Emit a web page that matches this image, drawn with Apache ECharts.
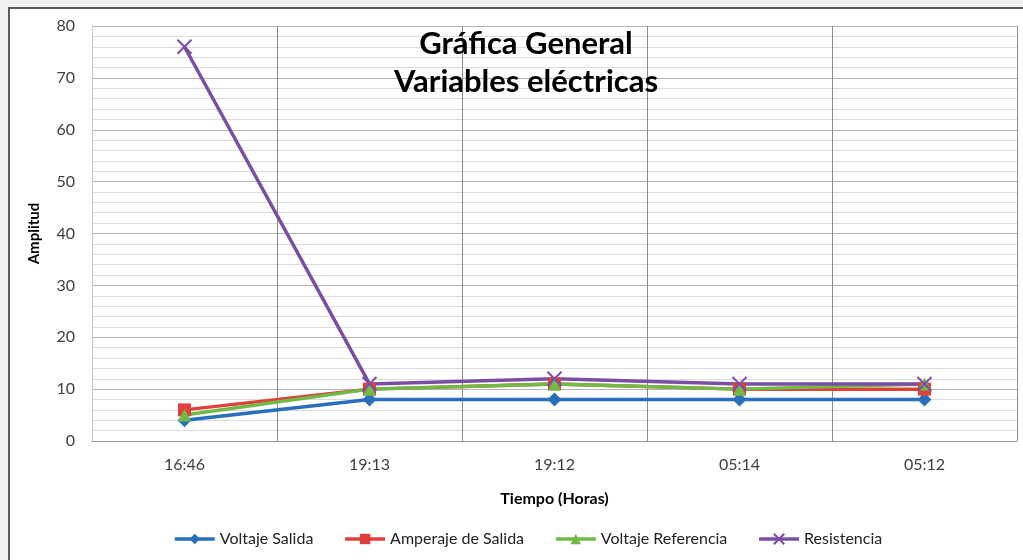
<!DOCTYPE html>
<html>
<head>
<meta charset="utf-8">
<title>Gráfica General - Variables eléctricas</title>
<script src="https://cdn.jsdelivr.net/npm/echarts@6/dist/echarts.min.js"></script>
<style>
  html, body { margin: 0; padding: 0; background: #f0f0f0; }
  #chart { width: 1023px; height: 560px; }
</style>
</head>
<body>
<div id="chart"></div>
<script>
// Chart data
const horas = ['16:46', '19:13', '19:12', '05:14', '05:12'];
const voltajeSalida = [4, 8, 8, 8, 8];
const amperajeSalida = [6, 10, 11, 10, 10];
const voltajeReferencia = [5, 10, 11, 10, 11];
const resistencia = [76, 11, 12, 11, 11];

const fontFam = 'Lato, "Open Sans", sans-serif';

function serie(name, data, color, symbol, size) {
    return {
        name: name,
        type: 'line',
        data: data,
        symbol: symbol,
        symbolSize: size,
        showAllSymbol: true,
        lineStyle: { color: color, width: 3.5 },
        itemStyle: { color: color, borderColor: color, borderWidth: symbol.indexOf('path://') === 0 ? 2 : 0 },
        emphasis: { disabled: true }
    };
}

const chart = echarts.init(document.getElementById('chart'));
chart.setOption({
    backgroundColor: '#f0f0f0',
    animation: false,
    textStyle: { fontFamily: fontFam },
    graphic: [{
        type: 'rect',
        z: -10,
        shape: { x: 9, y: 8, width: 1020, height: 560 },
        style: { fill: '#ffffff', stroke: '#5a5a5a', lineWidth: 2 }
    }],
    title: {
        text: 'Gráfica General\nVariables eléctricas',
        left: 521,
        textAlign: 'center',
        top: 20,
        textStyle: { fontSize: 31, fontWeight: 'bold', color: '#000', lineHeight: 38, fontFamily: fontFam }
    },
    legend: {
        bottom: 8,
        left: 168,
        itemWidth: 40,
        itemHeight: 13,
        itemGap: 30,
        lineStyle: { width: 3.5 },
        textStyle: { fontSize: 16, color: '#222', fontFamily: fontFam },
        data: ['Voltaje Salida', 'Amperaje de Salida', 'Voltaje Referencia', 'Resistencia']
    },
    grid: { left: 92, right: 6, top: 26, bottom: 119 },
    xAxis: {
        type: 'category',
        data: horas,
        boundaryGap: true,
        name: 'Tiempo (Horas)',
        nameLocation: 'middle',
        nameGap: 50,
        nameTextStyle: { fontSize: 16, fontWeight: 'bold', color: '#000' },
        axisLine: { lineStyle: { color: '#9a9a9a', width: 1 } },
        axisTick: { show: false },
        axisLabel: { fontSize: 16, color: '#404040', margin: 16 },
        splitLine: { show: true, lineStyle: { color: '#8c8c8c', width: 1 } }
    },
    yAxis: {
        type: 'value',
        min: 0,
        max: 80,
        interval: 10,
        name: 'Amplitud',
        nameLocation: 'middle',
        nameGap: 50,
        nameTextStyle: { fontSize: 15, fontWeight: 'bold', color: '#000' },
        axisLine: { show: true, lineStyle: { color: '#c8c8c8' } },
        axisTick: { show: false },
        axisLabel: { fontSize: 16, color: '#404040', margin: 17 },
        splitLine: { lineStyle: { color: '#b4b4b4', width: 1 } },
        minorTick: { show: false, splitNumber: 5 },
        minorSplitLine: { show: true, lineStyle: { color: '#dcdcdc', width: 1 } }
    },
    series: [
        serie('Voltaje Salida', voltajeSalida, '#2a6fbd', 'diamond', 14),
        serie('Amperaje de Salida', amperajeSalida, '#e0403c', 'rect', 13),
        serie('Voltaje Referencia', voltajeReferencia, '#70bb45', 'triangle', 13),
        serie('Resistencia', resistencia, '#7a4ea5', 'path://M0,0L10,10M10,0L0,10', 14)
    ]
});
</script>
</body>
</html>
